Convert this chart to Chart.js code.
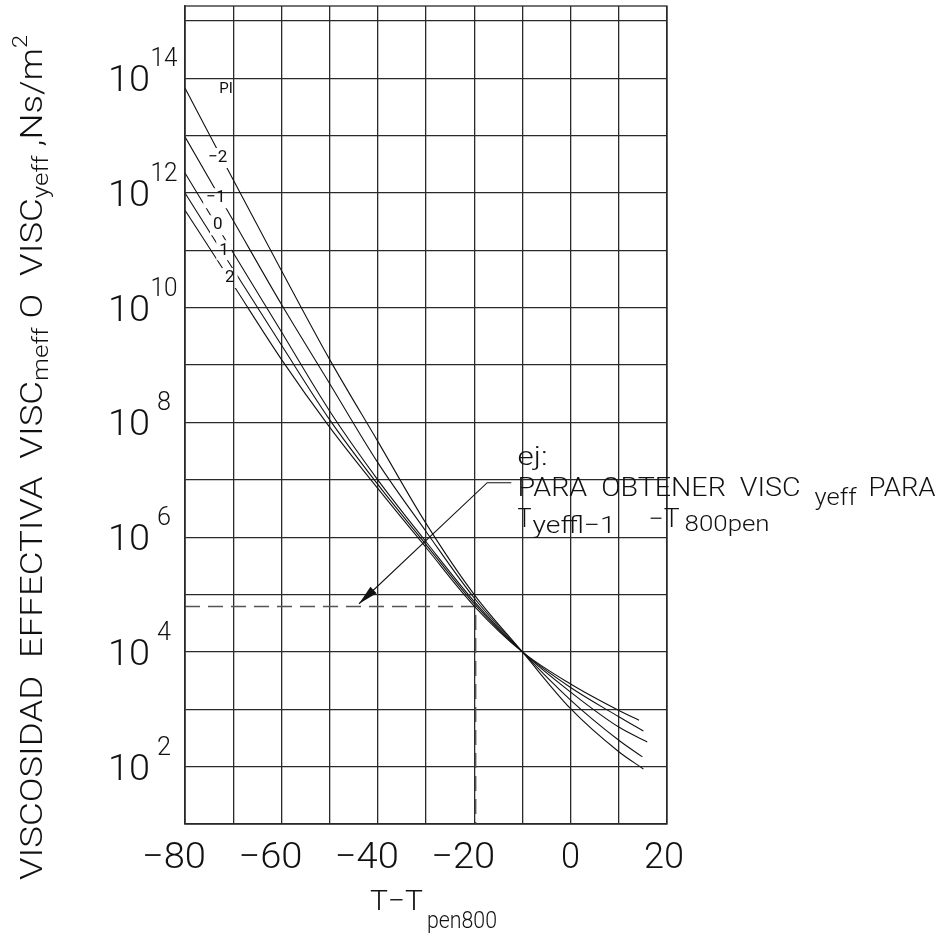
<!DOCTYPE html>
<html>
<head>
<meta charset="utf-8">
<script src="https://cdn.jsdelivr.net/npm/chart.js@4.4.1/dist/chart.umd.min.js"></script>
<style>
  html, body { margin: 0; padding: 0; background: #fff; }
  #wrap { width: 946px; height: 943px; }
</style>
</head>
<body>
<div id="wrap"><canvas id="chart" width="946" height="943"></canvas></div>
<script>
// Temperature relative to the 800-pen temperature (°C) at which each curve is read
const tempSteps = [-80, -70, -60, -50, -40, -30, -20, -10, 0, 10];
// Last plotted temperature of each curve
const tempEnds = { '-2': 15.1, '-1': 14.9, '0': 15.9, '1': 15.1, '2': 14.2 };

// log10 of the effective viscosity (Ns/m²) for each penetration index (PI)
const logViscPIm2 = [13.83, 12.23, 10.65, 9.10, 7.67, 6.24, 5.00, 4.00, 3.01, 2.26, 1.96];
const logViscPIm1 = [12.98, 11.52, 10.06, 8.68, 7.30, 6.10, 4.94, 4.00, 3.16, 2.46, 2.17];
const logViscPI0  = [12.35, 10.96,  9.58, 8.20, 7.00, 5.92, 4.88, 4.00, 3.30, 2.69, 2.43];
const logViscPI1  = [12.00, 10.67,  9.35, 8.05, 6.92, 5.87, 4.84, 4.00, 3.38, 2.87, 2.62];
const logViscPI2  = [11.70, 10.40,  9.10, 7.92, 6.85, 5.82, 4.80, 4.00, 3.44, 2.98, 2.81];

const piNames = ['-2', '-1', '0', '1', '2'];
const piSeries = [logViscPIm2, logViscPIm1, logViscPI0, logViscPI1, logViscPI2];

// Curve labels, placed on each curve near the left edge: [text, T, log10 visc]
const curveLabels = [
  ['\u22122', -73.2, 12.61],
  ['\u22121', -73.6, 11.91],
  ['0', -73.2, 11.44],
  ['1', -71.9, 11.00],
  ['2', -70.7, 10.52]
];
const headerLabel = ['PI', -71.5, 13.81];

// Worked example: temperature and the viscosity
const exampleTemp = -19.7;
const exampleLogVisc = 4.79;
// Leader of the note: [T, log10 visc] of the end near the text, the elbow and the arrow tip
const leaderEnd = [-12.3, 6.95];
const leaderElbow = [-17.3, 6.95];
const arrowTip = [-43.9, 4.84];

// Axis ranges and labels
const xMin = -80, xMax = 20, xStep = 10;
const yMinExp = 1, yMaxExp = 15.26;
const gridExponents = [1, 2, 3, 4, 5, 6, 7, 8, 9, 10, 11, 12, 13, 14, 15];
const labelledExponents = [2, 4, 6, 8, 10, 12, 14];
const xTickLabels = [-80, -60, -40, -20, 0, 20];

const INK = '#111';
const GRID = '#2a2a2a';
const FONT = "Roboto, 'Liberation Sans', 'DejaVu Sans', sans-serif";

function font(size, weight) { return `${weight || 300} ${size}px ${FONT}`; }

// Draw text squeezed/stretched horizontally to a given width
function fitText(ctx, text, x, y, width, f, align) {
  ctx.save();
  ctx.font = f;
  ctx.textAlign = 'left';
  ctx.textBaseline = 'alphabetic';
  const w = ctx.measureText(text).width;
  let x0 = x;
  if (align === 'center') x0 = x - width / 2;
  else if (align === 'right') x0 = x - width;
  ctx.translate(x0, y);
  ctx.scale(width / w, 1);
  ctx.fillText(text, 0, 0);
  ctx.restore();
}

function labelBoxes(chart) {
  const xs = chart.scales.x, ys = chart.scales.y, ctx = chart.ctx;
  ctx.save();
  ctx.font = font(17, 400);
  const boxes = curveLabels.map(([t, T, lv]) => {
    const w = ctx.measureText(t).width;
    const cx = xs.getPixelForValue(T), cy = ys.getPixelForValue(Math.pow(10, lv));
    return { t, cx, cy, x: cx - w / 2 - 3, y: cy - 10, w: w + 6, h: 20 };
  });
  ctx.restore();
  return boxes;
}

const decor = {
  id: 'viscDecor',
  beforeDatasetsDraw(chart) {
    // leave gaps in the curves where their labels sit
    const ctx = chart.ctx;
    ctx.save();
    ctx.beginPath();
    ctx.rect(0, 0, chart.width, chart.height);
    labelBoxes(chart).forEach(b => ctx.rect(b.x, b.y, b.w, b.h));
    ctx.clip('evenodd');
  },
  afterDatasetsDraw(chart) {
    chart.ctx.restore();
  },
  afterDraw(chart) {
    const ctx = chart.ctx, xs = chart.scales.x, ys = chart.scales.y, a = chart.chartArea;
    const px = T => xs.getPixelForValue(T);
    const py = lv => ys.getPixelForValue(Math.pow(10, lv));

    // plot frame
    ctx.save();
    ctx.strokeStyle = GRID;
    ctx.lineWidth = 1.3;
    ctx.strokeRect(a.left, a.top, a.right - a.left, a.bottom - a.top);
    ctx.restore();

    ctx.save();
    ctx.fillStyle = INK;

    // curve labels
    ctx.font = font(17, 400);
    ctx.textAlign = 'center';
    ctx.textBaseline = 'middle';
    labelBoxes(chart).forEach(b => ctx.fillText(b.t, b.cx, b.cy));
    ctx.font = font(15, 400);
    ctx.fillText(headerLabel[0], px(headerLabel[1]), py(headerLabel[2]));

    // y tick labels: 10 with superscript exponent
    labelledExponents.forEach(e => {
      const y = ys.getPixelForValue(Math.pow(10, e));
      fitText(ctx, '10', a.left - 35, y + 13, 42, font(36), 'right');
      const exp = String(e);
      fitText(ctx, exp, a.left - 21, y - 12, exp.length > 1 ? 27 : 14, font(25), 'center');
    });

    // x tick labels
    xTickLabels.forEach(v => {
      const txt = v < 0 ? '\u2212' + Math.abs(v) : String(v);
      const x = xs.getPixelForValue(v) + (v < 0 ? -11 : (v > 0 ? -3 : 0));
      const w = v < 0 ? 64 : (txt.length > 1 ? 40 : 19);
      fitText(ctx, txt, x, a.bottom + 44, w, font(36), 'center');
    });

    // x axis title
    const xt = a.left + 185;
    fitText(ctx, 'T\u2212T', xt, a.bottom + 86, 53, font(28), 'left');
    fitText(ctx, 'pen800', xt + 57, a.bottom + 104, 70, font(24), 'left');

    // y axis title, rotated
    ctx.save();
    ctx.translate(42, a.bottom + 56);
    ctx.rotate(-Math.PI / 2);
    const parts = [
      ['VISCOSIDAD  EFFECTIVA  VISC', 31, 0],
      ['meff', 22, 6],
      [' O  VISC', 31, 0],
      ['yeff', 22, 6],
      [' ,Ns/m', 31, 0],
      ['2', 20, -15]
    ];
    let total = 0;
    parts.forEach(p => { ctx.font = font(p[1], 300); total += ctx.measureText(p[0]).width; });
    const sx = 845 / total;
    let cur = 0;
    parts.forEach(p => {
      ctx.font = font(p[1], 300);
      const w = ctx.measureText(p[0]).width * sx;
      fitText(ctx, p[0], cur, p[2], w, font(p[1], 300), 'left');
      cur += w;
    });
    ctx.restore();

    // note with leader and arrow
    const ex = px(leaderEnd[0]), ey = py(leaderEnd[1]);
    const bx = px(leaderElbow[0]), by = py(leaderElbow[1]);
    const tx = px(arrowTip[0]), ty = py(arrowTip[1]);
    ctx.strokeStyle = INK;
    ctx.lineWidth = 1.1;
    ctx.beginPath();
    ctx.moveTo(ex, ey);
    ctx.lineTo(bx, by);
    ctx.lineTo(tx, ty);
    ctx.stroke();
    const ang = Math.atan2(ty - by, tx - bx);
    const L = 20, H = 4.5;
    ctx.beginPath();
    ctx.moveTo(tx, ty);
    ctx.lineTo(tx - L * Math.cos(ang) + H * Math.sin(ang), ty - L * Math.sin(ang) - H * Math.cos(ang));
    ctx.lineTo(tx - L * Math.cos(ang) - H * Math.sin(ang), ty - L * Math.sin(ang) + H * Math.cos(ang));
    ctx.closePath();
    ctx.fill();

    const nx = px(-11);
    fitText(ctx, 'ej:', nx, ey - 18, 30, font(25), 'left');
    fitText(ctx, 'PARA  OBTENER  VISC', nx, ey + 13, 283, font(25), 'left');
    fitText(ctx, 'yeff', nx + 297, ey + 22, 42, font(24), 'left');
    fitText(ctx, 'PARA', nx + 351, ey + 13, 67, font(25), 'left');
    fitText(ctx, 'T', nx, ey + 44, 14, font(25), 'left');
    fitText(ctx, 'yeffl\u22121', nx + 15, ey + 50, 83, font(24), 'left');
    fitText(ctx, '\u2212T', nx + 131, ey + 44, 31, font(25), 'left');
    fitText(ctx, '800pen', nx + 167, ey + 48, 85, font(22), 'left');
    ctx.restore();
  }
};

const datasets = piNames.map((name, i) => ({
  label: 'PI ' + name,
  data: tempSteps.concat([tempEnds[name]]).map((T, k) => ({ x: T, y: Math.pow(10, piSeries[i][k]) })),
  borderColor: INK,
  borderWidth: 1.1,
  pointRadius: 0,
  cubicInterpolationMode: 'monotone',
  fill: false
}));

datasets.push({
  label: 'ejemplo',
  data: [
    { x: xMin, y: Math.pow(10, exampleLogVisc) },
    { x: exampleTemp, y: Math.pow(10, exampleLogVisc) },
    { x: exampleTemp, y: Math.pow(10, yMinExp) }
  ],
  borderColor: '#555',
  borderWidth: 1.5,
  borderDash: [15, 8],
  pointRadius: 0,
  tension: 0,
  fill: false
});

new Chart(document.getElementById('chart'), {
  type: 'line',
  data: { datasets },
  options: {
    responsive: false,
    animation: false,
    devicePixelRatio: 1,
    layout: { padding: { left: 185, right: 279, top: 6, bottom: 119 } },
    plugins: { legend: { display: false }, tooltip: { enabled: false } },
    scales: {
      x: {
        type: 'linear',
        min: xMin, max: xMax,
        ticks: { stepSize: xStep, display: false },
        grid: { color: GRID, lineWidth: 1.3, drawTicks: false },
        border: { display: true, color: GRID, width: 1.3 }
      },
      y: {
        type: 'logarithmic',
        min: Math.pow(10, yMinExp), max: Math.pow(10, yMaxExp),
        afterBuildTicks: s => { s.ticks = gridExponents.map(e => ({ value: Math.pow(10, e) })); },
        ticks: { display: false },
        grid: { color: GRID, lineWidth: 1.3, drawTicks: false },
        border: { display: true, color: GRID, width: 1.3 }
      }
    }
  },
  plugins: [decor]
});
</script>
</body>
</html>
